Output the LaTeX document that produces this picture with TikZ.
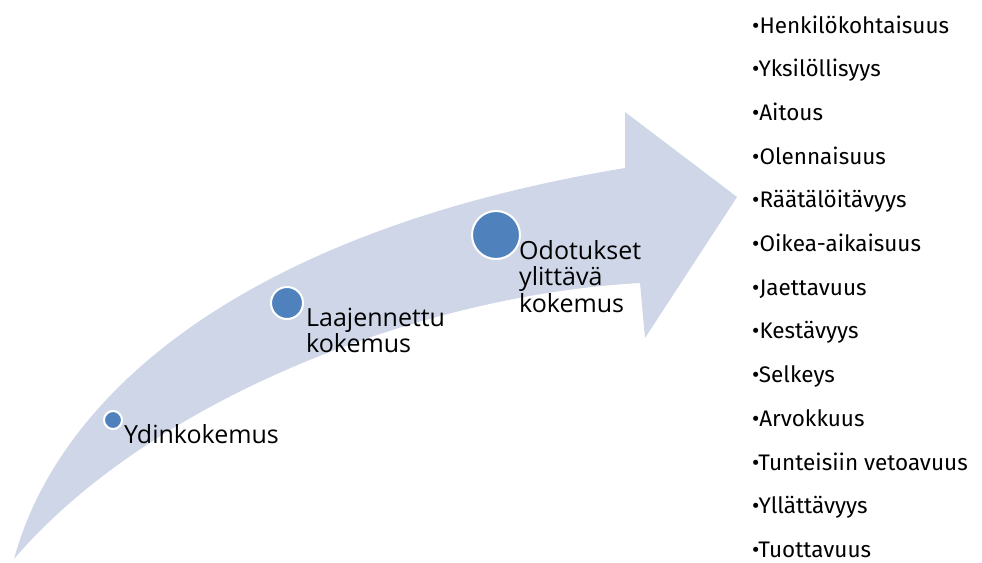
\documentclass[tikz,border=0pt]{standalone}
\usepackage{fontspec}
\setmainfont{Open Sans}
\newfontfamily\listfont{Fira Sans}
\definecolor{bandfill}{HTML}{CED6E7}
\definecolor{dotblue}{HTML}{4F81BD}
\begin{document}
\begin{tikzpicture}[x=1pt,y=-1pt,
  stepdot/.style={circle,fill=dotblue,draw=white,line width=2pt,inner sep=0pt},
  steplabel/.style={anchor=base west,inner sep=0pt,align=left,
    font=\fontsize{25}{26.5}\selectfont},
  listitem/.style={anchor=base west,inner sep=0pt,font=\listfont\fontsize{22.5}{24}\selectfont}]
\useasboundingbox (0,0) rectangle (982,562);
% curved band with arrow head
\fill[bandfill]
  (14,559) .. controls (60,390) and (250,230) .. (625,168)
  -- (625,112) -- (737,197) -- (645,338) -- (640,283)
  .. controls (420,295) and (150,400) .. (14,559)
  -- cycle;
% milestones
\node[stepdot,minimum size=18pt] (d1) at (113,420) {};
\node[stepdot,minimum size=32pt] (d2) at (287,303) {};
\node[stepdot,minimum size=48pt] (d3) at (496,235) {};
% labels: the base anchor sits on the last line
\node[steplabel] (l1) at (124,443) {Ydinkokemus};
\node[steplabel] (l2) at (306,352.5) {Laajennettu\\kokemus};
\node[steplabel] (l3) at (519,312) {Odotukset\\ylittävä\\kokemus};
% list of qualities
\foreach \t [count=\i from 0] in {Henkilökohtaisuus,Yksilöllisyys,Aitous,Olennaisuus,Räätälöitävyys,Oikea-aikaisuus,Jaettavuus,Kestävyys,Selkeys,Arvokkuus,Tunteisiin vetoavuus,Yllättävyys,Tuottavuus}
  \node[listitem] (q\i) at (752,33+43.7*\i) {•\t};
\end{tikzpicture}
\end{document}
